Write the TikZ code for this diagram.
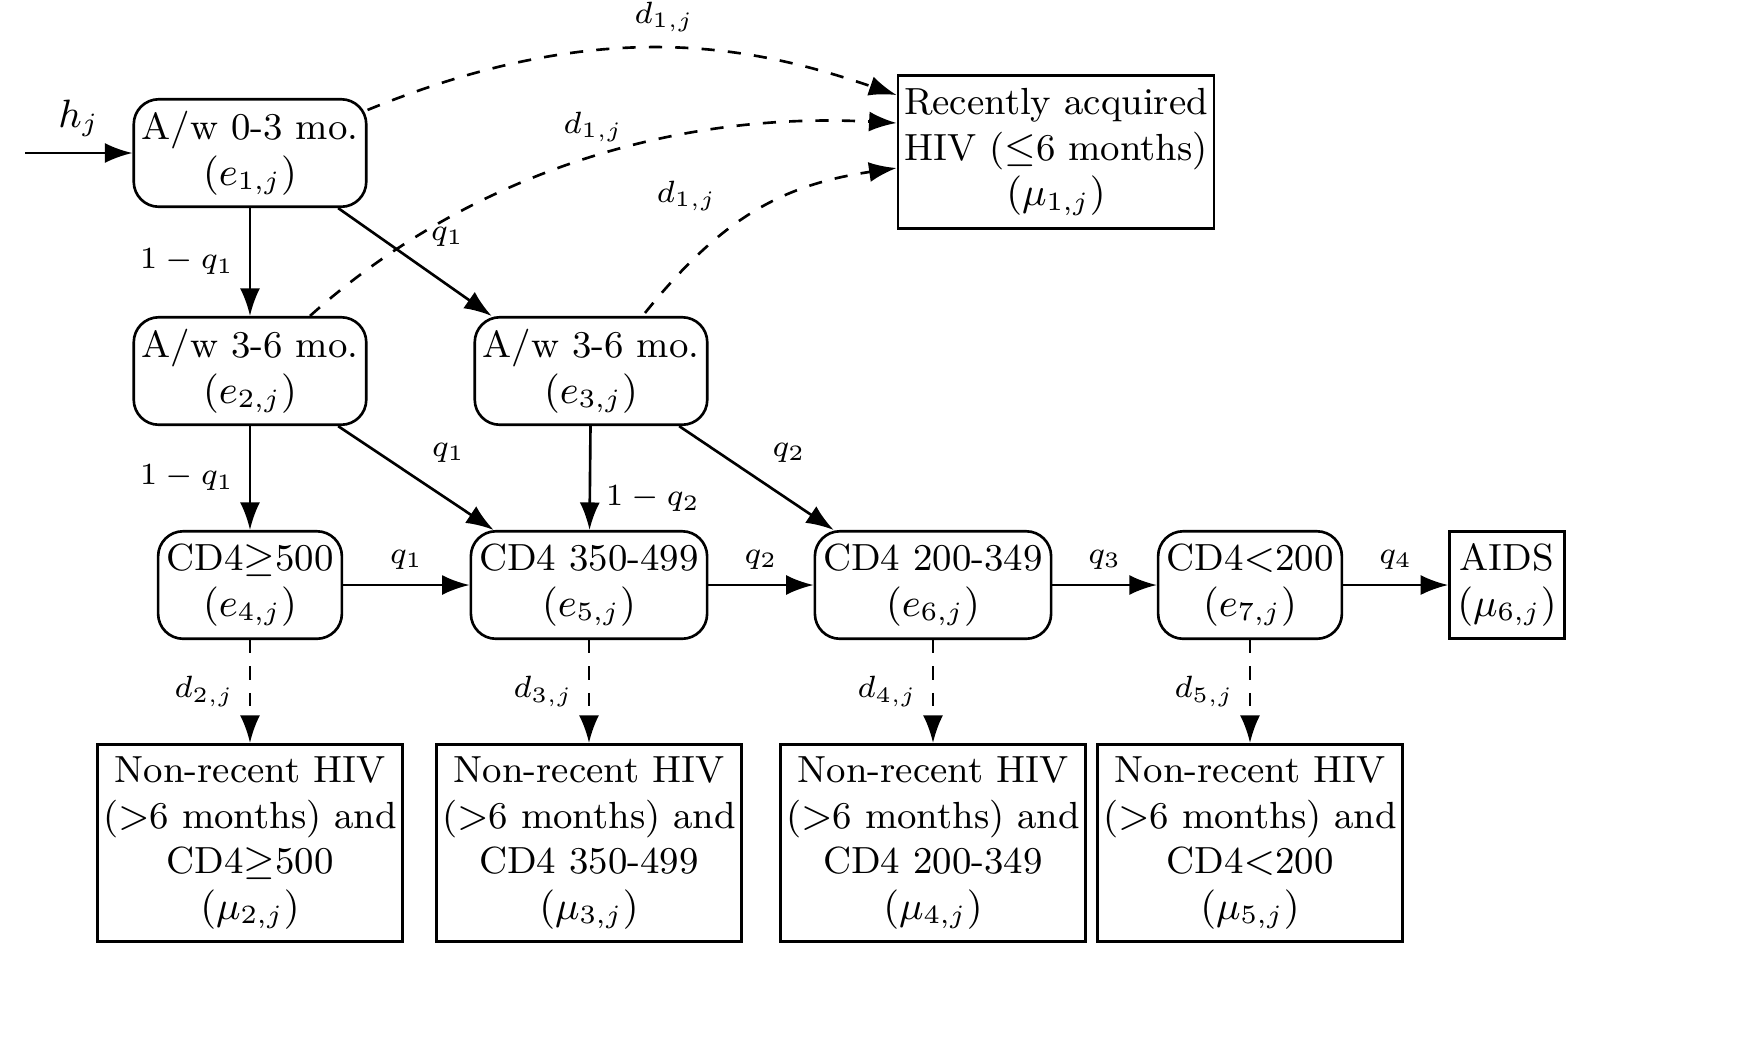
\documentclass[tikz,border=0pt]{standalone}
\usepackage{amssymb}
\usetikzlibrary{arrows.meta}
\tikzset{
  state/.style={rectangle, rounded corners=2mm, draw, semithick, align=center, minimum height=8.6mm, inner sep=1pt},
  result/.style={rectangle, draw, semithick, align=center, inner sep=1pt},
  flow/.style={-{Latex[length=2.2mm,width=1.6mm]}, semithick},
  exit/.style={flow, dashed},
  lab/.style={font=\fontsize{6.8pt}{8pt}\selectfont}
}
\begin{document}
\begin{tikzpicture}[x=0.08mm, y=-0.08mm, every node/.style={font=\fontsize{8.6pt}{10.4pt}\selectfont}]
    \useasboundingbox (0,0) rectangle (1749,1052);
    % states
    \node[state, minimum width=18.6mm] (e1) at (250,153) {A/w 0-3 mo.\\$(e_{1,j})$};
    \node[state, minimum width=18.6mm] (e2) at (250,371) {A/w 3-6 mo.\\$(e_{2,j})$};
    \node[state, minimum width=18.6mm] (e3) at (591,371) {A/w 3-6 mo.\\$(e_{3,j})$};
    \node[state, minimum width=14.7mm] (e4) at (250,585) {CD4$\geq$500\\$(e_{4,j})$};
    \node[state, minimum width=18.9mm] (e5) at (589,585) {CD4 350-499\\$(e_{5,j})$};
    \node[state, minimum width=18.9mm] (e6) at (933,585) {CD4 200-349\\$(e_{6,j})$};
    \node[state, minimum width=14.7mm] (e7) at (1250,585) {CD4$<$200\\$(e_{7,j})$};

    % outcomes
    \node[result, minimum width=25.3mm, minimum height=12.2mm] (m1) at (1056,152) {Recently acquired\\HIV ($\leq$6 months)\\$(\mu_{1,j})$};
    \node[result, minimum width=9.2mm, minimum height=8.6mm] (m6) at (1507,585) {AIDS\\$(\mu_{6,j})$};
    \node[result, minimum width=24.4mm, minimum height=15.8mm] (m2) at (250,843) {Non-recent HIV\\($>$6 months) and\\CD4$\geq$500\\$(\mu_{2,j})$};
    \node[result, minimum width=24.4mm, minimum height=15.8mm] (m3) at (589,843) {Non-recent HIV\\($>$6 months) and\\CD4 350-499\\$(\mu_{3,j})$};
    \node[result, minimum width=24.4mm, minimum height=15.8mm] (m4) at (933,843) {Non-recent HIV\\($>$6 months) and\\CD4 200-349\\$(\mu_{4,j})$};
    \node[result, minimum width=24.4mm, minimum height=15.8mm] (m5) at (1250,843) {Non-recent HIV\\($>$6 months) and\\CD4$<$200\\$(\mu_{5,j})$};

    % entry
    \coordinate (in) at (25,153);
    \draw[flow] (in) -- (e1.west) node[midway, above] {$h_j$};

    % progression
    \draw[flow] (e1) -- (e2) node[midway, left, lab] {$1-q_1$};
    \draw[flow] (e1.-32) -- (e3.151) node[midway, above right, lab] {$q_1$};
    \draw[flow] (e2) -- (e4) node[midway, left, lab] {$1-q_1$};
    \draw[flow] (e2.-32) -- (e5.150) node[midway, above right, lab] {$q_1$};
    \draw[flow] (e3) -- (e5) node[pos=0.7, right, lab] {$1-q_2$};
    \draw[flow] (e3.-32) -- (e6.151) node[midway, above right, lab] {$q_2$};
    \draw[flow] (e4) -- (e5) node[midway, above, lab] {$q_1$};
    \draw[flow] (e5) -- (e6) node[midway, above, lab] {$q_2$};
    \draw[flow] (e6) -- (e7) node[midway, above, lab] {$q_3$};
    \draw[flow] (e7) -- (m6) node[midway, above, lab] {$q_4$};

    % diagnoses
    \draw[exit] (e1.north east) ++(0,12) .. controls (600,15) and (750,45) .. (m1.west |- 0,95) node[pos=0.5, above, lab] {$d_{1,j}$};
    \draw[exit] (e2.north) ++(60,0) .. controls (450,190) and (650,110) .. (m1.west |- 0,123) node[pos=0.55, above, lab] {$d_{1,j}$};
    \draw[exit] (e3.north) ++(54,-3) .. controls (720,220) and (780,185) .. (m1.west |- 0,168) node[pos=0.4, above left, lab] {$d_{1,j}$};
    \draw[exit] (e4) -- (m2) node[midway, left, lab] {$d_{2,j}$};
    \draw[exit] (e5) -- (m3) node[midway, left, lab] {$d_{3,j}$};
    \draw[exit] (e6) -- (m4) node[midway, left, lab] {$d_{4,j}$};
    \draw[exit] (e7) -- (m5) node[midway, left, lab] {$d_{5,j}$};
\end{tikzpicture}
\end{document}
